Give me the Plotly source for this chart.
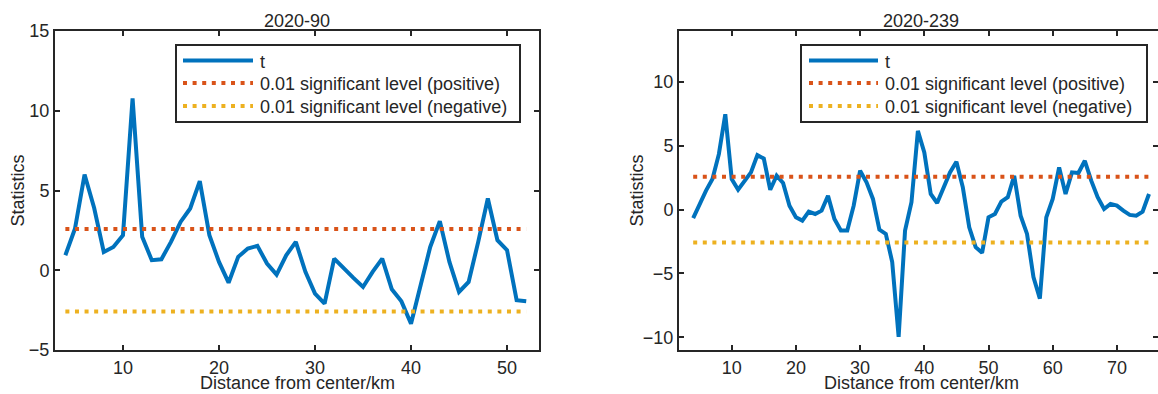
import plotly.graph_objects as go

# ---------------- data ----------------
dist_90 = list(range(4, 53))
t_90 = [0.94, 2.6, 6.0, 3.9, 1.15, 1.46, 2.2, 10.78, 2.1, 0.63, 0.69, 1.78, 3.03, 3.87,
        5.59, 2.2, 0.52, -0.78, 0.84, 1.36, 1.53, 0.42, -0.27, 0.94, 1.78, -0.1, -1.46,
        -2.09, 0.73, 0.1, -0.48, -1.05, -0.1, 0.73, -1.19, -1.95, -3.35, -0.94, 1.46,
        3.08, 0.52, -1.36, -0.73, 1.78, 4.5, 1.88, 1.26, -1.88, -1.95]

dist_239 = list(range(4, 76))
t_239 = [-0.67, 0.45, 1.49, 2.4, 4.35, 7.48, 2.4, 1.56, 2.27, 2.92, 4.27, 4.0, 1.56, 2.66,
         2.09, 0.31, -0.6, -0.86, -0.16, -0.34, -0.08, 1.09, -0.73, -1.64, -1.64, 0.31,
         3.05, 2.14, 0.84, -1.56, -1.9, -4.1, -9.97, -1.64, 0.58, 6.17, 4.48, 1.23, 0.52,
         1.75, 2.92, 3.75, 1.75, -1.38, -2.94, -3.38, -0.6, -0.34, 0.63, 0.97, 2.66, -0.47,
         -1.9, -5.28, -6.98, -0.6, 0.84, 3.31, 1.23, 2.92, 2.87, 3.83, 2.27, 0.97, 0.05,
         0.45, 0.31, -0.08, -0.41, -0.47, -0.16, 1.23]

sig_pos = 2.58
sig_neg = -2.58

titles = ["2020-90", "2020-239"]
names = ["t", "0.01 significant level (positive)", "0.01 significant level (negative)"]
xticks_90 = [10, 20, 30, 40, 50]
xticks_239 = [10, 20, 30, 40, 50, 60, 70]
yticks_90 = [-5, 0, 5, 10, 15]
yticks_239 = [-10, -5, 0, 5, 10]
x_title = "Distance from center/km"
y_title = "Statistics"

# ---------------- style ----------------
FONT = "Liberation Sans, Arial, sans-serif"
TXT = "#262626"
C_T = "#0072BD"
C_POS = "#D95319"
C_NEG = "#EDB120"
DOT = "4px,5.6px"
colors = [C_T, C_POS, C_NEG]
dashes = ["solid", DOT, DOT]

W, H = 1158, 394
MT, MB = 31, 44
PH = H - MT - MB


def px_x(p):
    return p / W


def px_y(p):
    return 1 - (p - MT) / PH


fig = go.Figure()

panels = [
    (dist_90, t_90, "x", "y"),
    (dist_239, t_239, "x2", "y2"),
]
for d, t, xa, ya in panels:
    fig.add_trace(go.Scatter(x=d, y=t, mode="lines", name=names[0], showlegend=False,
                             line=dict(color=C_T, width=4), xaxis=xa, yaxis=ya))
    fig.add_trace(go.Scatter(x=[d[0], d[-1]], y=[sig_pos, sig_pos], mode="lines", name=names[1],
                             showlegend=False, line=dict(color=C_POS, width=4, dash=DOT),
                             xaxis=xa, yaxis=ya))
    fig.add_trace(go.Scatter(x=[d[0], d[-1]], y=[sig_neg, sig_neg], mode="lines", name=names[2],
                             showlegend=False, line=dict(color=C_NEG, width=4, dash=DOT),
                             xaxis=xa, yaxis=ya))

axis_common = dict(showgrid=False, zeroline=False, showline=True, linecolor=TXT, linewidth=2,
                   mirror="ticks", ticks="inside", ticklen=5, tickwidth=2, tickcolor=TXT,
                   automargin=False,
                   tickfont=dict(family=FONT, size=18, color=TXT))

dom1 = [55 / W, 539 / W]
dom2 = [679 / W, 1.0]

fig.update_layout(
    width=W, height=H,
    margin=dict(l=0, r=0, t=MT, b=MB),
    paper_bgcolor="white", plot_bgcolor="white",
    font=dict(family=FONT, size=18, color=TXT),
    xaxis=dict(domain=dom1, range=[2.92, 53.33], tickvals=xticks_90, **axis_common),
    yaxis=dict(domain=[0, 1], range=[-5, 15], tickvals=yticks_90, **axis_common),
    xaxis2=dict(domain=dom2, range=[1.79, 76.4], tickvals=xticks_239, anchor="y2", **axis_common),
    yaxis2=dict(domain=[0, 1], range=[-11, 14], tickvals=yticks_239, anchor="x2", **axis_common),
    showlegend=False,
)

# panel titles
for title, cx in zip(titles, [297, 921]):
    fig.add_annotation(text=title, x=px_x(cx), y=1, xref="paper", yref="paper",
                       xanchor="center", yanchor="bottom", showarrow=False, yshift=-2,
                       font=dict(family=FONT, size=18, color=TXT))

# x-axis titles
for cx in [297, 921]:
    fig.add_annotation(text=x_title, x=px_x(cx), y=px_y(383), xref="paper", yref="paper",
                       xanchor="center", yanchor="middle", showarrow=False,
                       borderpad=0, borderwidth=0,
                       font=dict(family=FONT, size=18, color=TXT))

# y-axis titles
for cx in [17, 636]:
    fig.add_annotation(text=y_title, x=px_x(cx), y=0.5, xref="paper", yref="paper",
                       xanchor="center", yanchor="middle", textangle=-90, showarrow=False,
                       font=dict(family=FONT, size=18, color=TXT))

# legend boxes (one per panel)
legend_specs = [
    dict(box=(176, 520), sample=(183, 253), text_x=258),
    dict(box=(801, 1147), sample=(809, 878), text_x=883),
]
rows_y = [60.5, 83, 106]
for spec in legend_specs:
    bx0, bx1 = spec["box"]
    fig.add_shape(type="rect", xref="paper", yref="paper",
                  x0=px_x(bx0), x1=px_x(bx1), y0=px_y(122), y1=px_y(45),
                  line=dict(color=TXT, width=2), fillcolor="white", layer="above")
    sx0, sx1 = spec["sample"]
    for name, col, dsh, ry in zip(names, colors, dashes, rows_y):
        fig.add_shape(type="line", xref="paper", yref="paper",
                      x0=px_x(sx0), x1=px_x(sx1), y0=px_y(ry), y1=px_y(ry),
                      line=dict(color=col, width=4, dash=dsh), layer="above")
        fig.add_annotation(text=name, x=px_x(spec["text_x"]), y=px_y(ry + 1), xref="paper",
                           yref="paper", xanchor="left", yanchor="middle", showarrow=False,
                           font=dict(family=FONT, size=18, color=TXT))

fig.write_html("out.html")
